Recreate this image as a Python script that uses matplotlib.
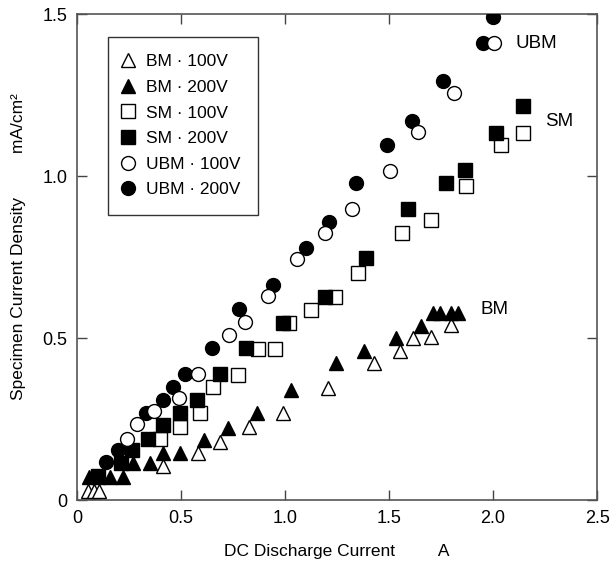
import matplotlib.pyplot as plt

plt.rcParams['font.family'] = ['Liberation Sans', 'DejaVu Sans']

# BM (triangulos)
bm100_x = [0.055, 0.08, 0.105, 0.415, 0.58, 0.69, 0.827, 0.99, 1.205, 1.43, 1.555, 1.615, 1.70, 1.80]
bm100_y = [0.03, 0.03, 0.03, 0.105, 0.146, 0.18, 0.227, 0.27, 0.347, 0.424, 0.462, 0.50, 0.505, 0.542]
bm200_x = [0.06, 0.10, 0.16, 0.22, 0.27, 0.35, 0.415, 0.495, 0.61, 0.725, 0.865, 1.03, 1.245, 1.38,
           1.535, 1.655, 1.71, 1.745, 1.80, 1.83]
bm200_y = [0.072, 0.072, 0.072, 0.072, 0.115, 0.115, 0.147, 0.147, 0.187, 0.224, 0.27, 0.34, 0.424, 0.46,
           0.50, 0.538, 0.578, 0.578, 0.578, 0.578]

# SM (quadrados)
sm100_x = [0.40, 0.495, 0.59, 0.655, 0.775, 0.87, 0.95, 1.02, 1.125, 1.24, 1.35, 1.56, 1.70, 1.87, 2.04, 2.145]
sm100_y = [0.19, 0.227, 0.27, 0.35, 0.387, 0.468, 0.468, 0.548, 0.587, 0.628, 0.70, 0.825, 0.865, 0.97, 1.097, 1.134]
sm200_x = [0.10, 0.21, 0.265, 0.34, 0.415, 0.495, 0.575, 0.69, 0.815, 0.99, 1.19, 1.39, 1.59, 1.775, 1.865, 2.015, 2.145]
sm200_y = [0.075, 0.115, 0.155, 0.19, 0.233, 0.27, 0.31, 0.39, 0.47, 0.548, 0.628, 0.748, 0.90, 0.98, 1.02, 1.134, 1.217]

# UBM (circulos)
ubm100_x = [0.24, 0.29, 0.37, 0.49, 0.58, 0.73, 0.81, 0.92, 1.06, 1.19, 1.32, 1.505, 1.64, 1.81, 2.005]
ubm100_y = [0.19, 0.235, 0.275, 0.315, 0.39, 0.51, 0.55, 0.63, 0.745, 0.825, 0.90, 1.015, 1.135, 1.255, 1.41]
ubm200_x = [0.14, 0.20, 0.33, 0.415, 0.46, 0.52, 0.65, 0.78, 0.94, 1.10, 1.21, 1.34, 1.49, 1.61, 1.76, 1.95, 2.00]
ubm200_y = [0.12, 0.155, 0.27, 0.31, 0.35, 0.39, 0.47, 0.59, 0.665, 0.78, 0.86, 0.98, 1.095, 1.17, 1.295, 1.41, 1.49]

fig = plt.figure(figsize=(6.15, 5.64), dpi=100)
ax = fig.add_axes([0.125, 0.1126, 0.846, 0.8625])

ms = 10
ax.plot(bm100_x, bm100_y, '^', ms=ms, mfc='white', mec='black', mew=1, label='BM · 100V', zorder=3)
ax.plot(bm200_x, bm200_y, '^', ms=ms, mfc='black', mec='black', label='BM · 200V', zorder=4)
ax.plot(sm100_x, sm100_y, 's', ms=ms, mfc='white', mec='black', mew=1, label='SM · 100V', zorder=5)
ax.plot(sm200_x, sm200_y, 's', ms=ms, mfc='black', mec='black', label='SM · 200V', zorder=6)
ax.plot(ubm100_x, ubm100_y, 'o', ms=ms, mfc='white', mec='black', mew=1, label='UBM · 100V', zorder=8)
ax.plot(ubm200_x, ubm200_y, 'o', ms=ms, mfc='black', mec='black', label='UBM · 200V', zorder=7)

ax.text(2.11, 1.41, 'UBM', fontsize=13.5, va='center')
ax.text(2.25, 1.17, 'SM', fontsize=13.5, va='center')
ax.text(1.94, 0.59, 'BM', fontsize=13.5, va='center')

ax.set_xlim(0, 2.5)
ax.set_ylim(0, 1.5)
ax.set_xticks([0, 0.5, 1.0, 1.5, 2.0, 2.5])
ax.set_xticklabels(['0', '0.5', '1.0', '1.5', '2.0', '2.5'])
ax.set_yticks([0, 0.5, 1.0, 1.5])
ax.set_yticklabels(['0', '0.5', '1.0', '1.5'])
ax.tick_params(direction='in', length=7, width=1, labelsize=13, pad=7, top=True, right=True, color='#444444')
for s in ax.spines.values():
    s.set_color('#555555')
    s.set_linewidth(1.2)

fig.text(0.548, 0.023, 'DC Discharge Current         A', fontsize=12.5, ha='center', va='center')
fig.text(0.03, 0.562, 'Specimen Current Density         mA/cm²', fontsize=12.5, ha='center', va='center',
         rotation=90)

leg = ax.legend(loc='upper left', bbox_to_anchor=(0.0596, 0.953), fontsize=12.5, frameon=True,
                fancybox=False, edgecolor='black', handletextpad=0.9, labelspacing=0.6,
                handlelength=0.3, borderpad=1.0, borderaxespad=0)
leg.get_frame().set_linewidth(1)

plt.savefig('out.png', dpi=100)
